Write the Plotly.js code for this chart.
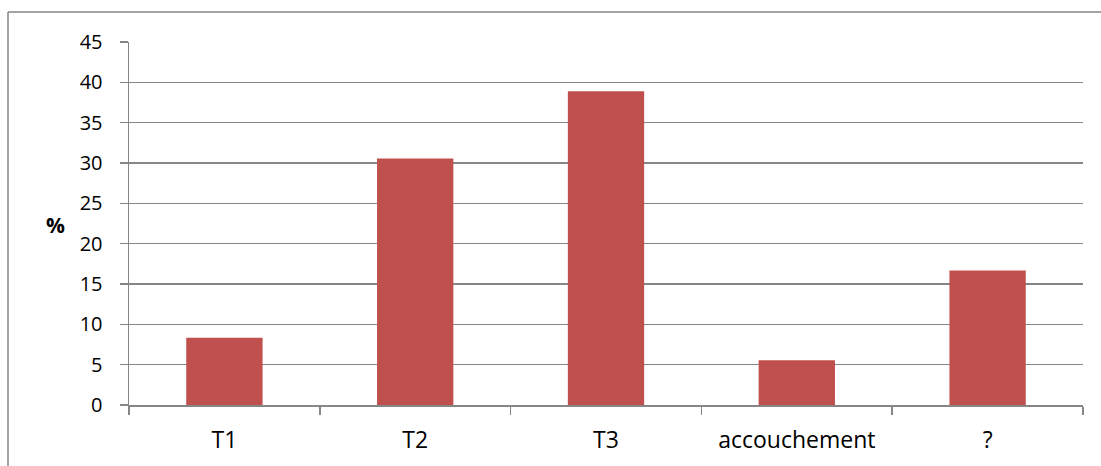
<!DOCTYPE html>
<html><head><meta charset="utf-8">
<script src="https://cdn.plot.ly/plotly-3.0.1.min.js"></script>
<style>html,body{margin:0;padding:0;background:#fff}#chart{width:1101px;height:466px}</style>
</head><body><div id="chart"></div>
<script>
const categories = ["T1", "T2", "T3", "accouchement", "?"];
const values = [8.33, 30.56, 38.89, 5.56, 16.67];
const yTicks = [0, 5, 10, 15, 20, 25, 30, 35, 40, 45];

const grey = "#868686";
const trace = {
  type: "bar", x: categories, y: values,
  marker: {color: "#C0504D"}, hoverinfo: "x+y"
};
const layout = {
  width: 1101, height: 466,
  margin: {l: 129, r: 18, t: 42, b: 61, pad: 0},
  paper_bgcolor: "#fff", plot_bgcolor: "#fff",
  font: {family: "Open Sans, Liberation Sans, sans-serif", size: 20, color: "#000"},
  bargap: 0.6, showlegend: false,
  xaxis: {
    type: "category", showline: true, linecolor: grey, linewidth: 1.5,
    ticks: "outside", tickson: "boundaries", ticklen: 8, tickcolor: grey, tickwidth: 1.5,
    ticklabelstandoff: 14, tickfont: {size: 23}, showgrid: false, zeroline: false
  },
  yaxis: {
    range: [0, 45], tickvals: yTicks, ticktext: yTicks.map(String),
    showline: true, linecolor: grey, linewidth: 1.5,
    ticks: "outside", ticklen: 8, tickcolor: grey, tickwidth: 1.5,
    ticklabelstandoff: 13, tickfont: {size: 20},
    showgrid: true, gridcolor: grey, gridwidth: 1.5, zeroline: false
  },
  annotations: [{
    text: "<b>%</b>", xref: "paper", yref: "paper",
    x: (55 - 129) / 954, y: (405 - 225) / 363, showarrow: false,
    font: {size: 21}, xanchor: "center", yanchor: "middle"
  }],
  shapes: [
    {type: "line", xref: "paper", yref: "paper", layer: "below",
     x0: (8 - 129) / 954, x1: (8 - 129) / 954,
     y0: (405 - 520) / 363, y1: (405 - 12) / 363,
     line: {color: grey, width: 1.5}},
    {type: "line", xref: "paper", yref: "paper", layer: "below",
     x0: (8 - 129) / 954, x1: (1150 - 129) / 954,
     y0: (405 - 12) / 363, y1: (405 - 12) / 363,
     line: {color: grey, width: 1.5}}
  ]
};
Plotly.newPlot("chart", [trace], layout, {displayModeBar: false, staticPlot: true});
</script></body></html>
